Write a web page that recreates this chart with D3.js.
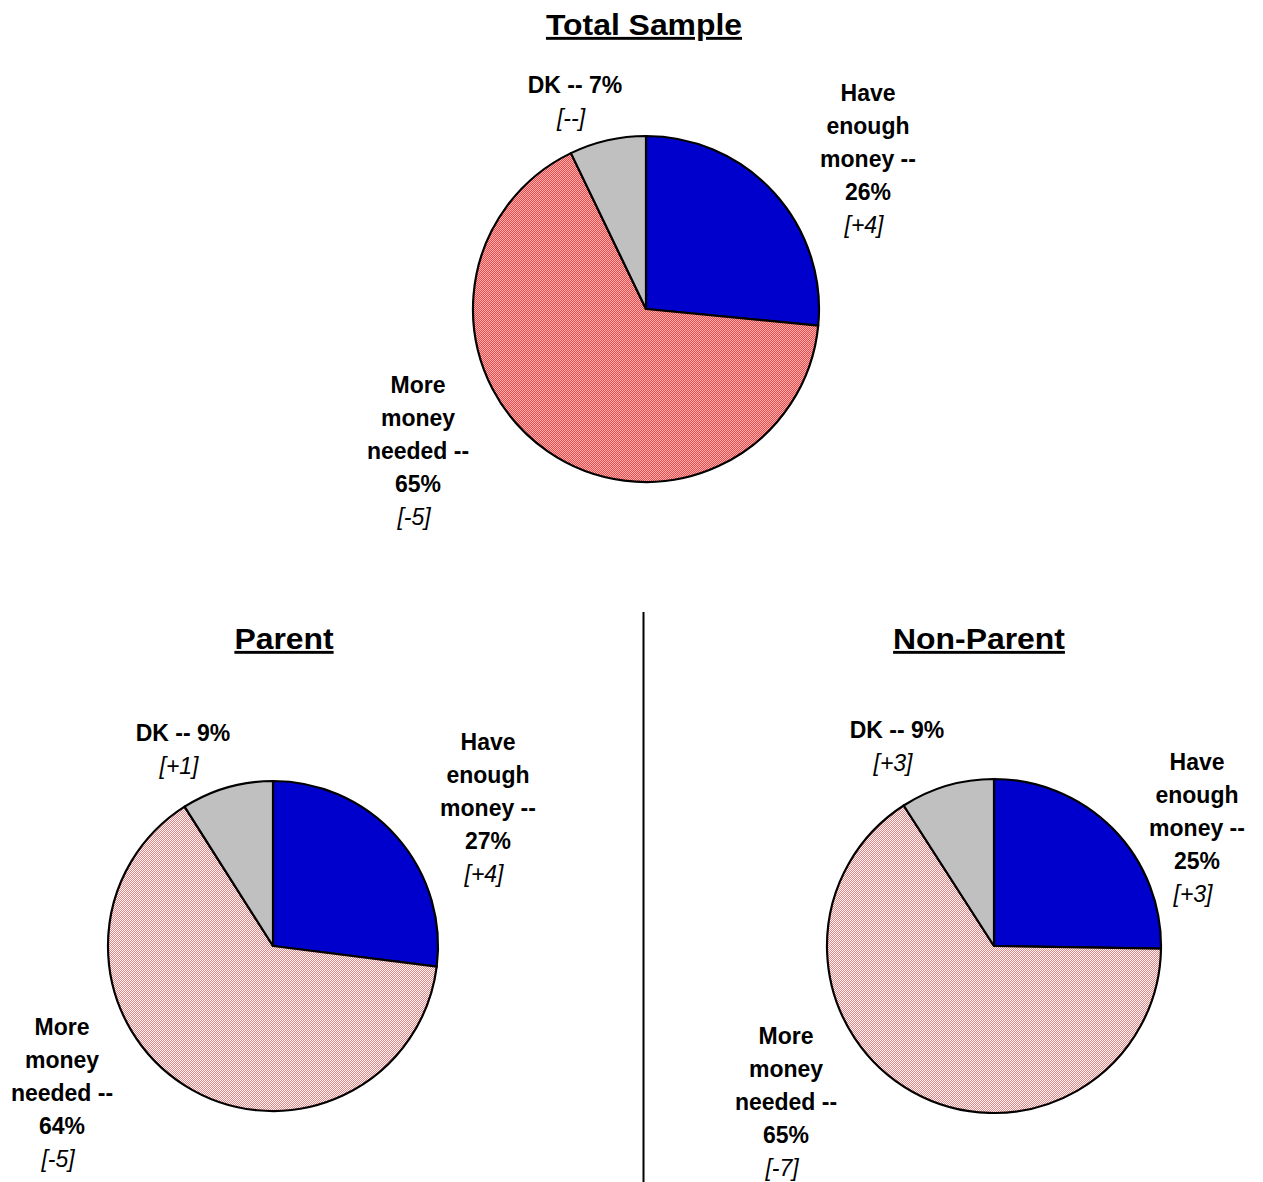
<!DOCTYPE html>
<html>
<head>
<meta charset="utf-8">
<script src="https://cdn.jsdelivr.net/npm/d3@7"></script>
<style>
  html, body { margin: 0; padding: 0; background: #fff; }
  svg { display: block; }
  text { font-family: "Liberation Sans", Arial, sans-serif; fill: #000; }
</style>
</head>
<body>
<svg id="chart" width="1263" height="1182"></svg>
<script>
// Survey answers, shares in percent, slices drawn clockwise from 12 o'clock
const panelTitles = ["Total Sample", "Parent", "Non-Parent"];
const categories = ["Have enough money", "More money needed", "DK"];
const totalValues = [26, 65, 7];
const parentValues = [27, 64, 9];
const nonParentValues = [25, 65, 9];
// Change versus the previous wave, shown in brackets
const totalChanges = ["+4", "-5", "--"];
const parentChanges = ["+4", "-5", "+1"];
const nonParentChanges = ["+3", "-7", "+3"];
// Wording of each slice label, split into lines; the value is appended
const labelLines = [["Have", "enough", "money --"], ["More", "money", "needed --"], []];
const labelPrefix = ["", "", "DK -- "];

const svg = d3.select("#chart");
const defs = svg.append("defs");

// 1px checkerboard fill, tiled on the page grid (offset one pixel)
function checker(id, bg, fg, ox, oy) {
  const p = defs.append("pattern").attr("id", id)
    .attr("patternUnits", "userSpaceOnUse")
    .attr("x", 1 - ox).attr("y", -oy)
    .attr("width", 2).attr("height", 2);
  p.append("rect").attr("width", 2).attr("height", 2).attr("fill", bg);
  p.append("rect").attr("x", 0).attr("y", 0).attr("width", 1).attr("height", 1).attr("fill", fg);
  p.append("rect").attr("x", 1).attr("y", 1).attr("width", 1).attr("height", 1).attr("fill", fg);
}

const panels = [
  { title: panelTitles[0], values: totalValues, changes: totalChanges,
    cx: 646, cy: 309, r: 173, titleX: 644, titleY: 35, dense: true,
    labels: [{ x: 868, y: 101 }, { x: 418, y: 393 }, { x: 575, y: 93 }] },
  { title: panelTitles[1], values: parentValues, changes: parentChanges,
    cx: 273, cy: 946, r: 165, titleX: 284, titleY: 649, dense: false,
    labels: [{ x: 488, y: 750 }, { x: 62, y: 1035 }, { x: 183, y: 741 }] },
  { title: panelTitles[2], values: nonParentValues, changes: nonParentChanges,
    cx: 994, cy: 946, r: 167, titleX: 979, titleY: 649, dense: false,
    labels: [{ x: 1197, y: 770 }, { x: 786, y: 1044 }, { x: 897, y: 738 }] }
];

const pie = d3.pie().sort(null).value(d => d);
const lineH = 33;

panels.forEach((p, pi) => {
  const patId = "more" + pi;
  if (p.dense) checker(patId, "#ffb4b4", "#f24848", p.cx, p.cy);
  else checker(patId, "#ffffff", "#ef8080", p.cx, p.cy);
  const fills = ["#0000cc", `url(#${patId})`, "#c0c0c0"];
  const arc = d3.arc().innerRadius(0).outerRadius(p.r);
  const g = svg.append("g").attr("transform", `translate(${p.cx},${p.cy})`);
  g.selectAll("path").data(pie(p.values)).join("path")
    .attr("d", arc)
    .attr("fill", (d, i) => fills[i])
    .attr("stroke", "#000").attr("stroke-width", 2.2).attr("stroke-linejoin", "round");

  // panel title, bold and underlined
  svg.append("text")
    .attr("transform", `translate(${p.titleX},${p.titleY}) scale(1.1,1)`)
    .attr("text-anchor", "middle")
    .attr("font-size", 29).attr("font-weight", "bold")
    .attr("text-decoration", "underline")
    .text(p.title);

  categories.forEach((c, i) => {
    const pos = p.labels[i];
    const lines = labelLines[i].slice();
    if (lines.length) lines.push(p.values[i] + "%");
    else lines.push(labelPrefix[i] + p.values[i] + "%");
    const t = svg.append("text")
      .attr("transform", `translate(${pos.x},${pos.y})`)
      .attr("text-anchor", "middle")
      .attr("font-size", 23);
    lines.forEach((ln, k) => {
      t.append("tspan").attr("x", 0).attr("y", k * lineH)
        .attr("font-weight", "bold").text(ln);
    });
    t.append("tspan").attr("x", -4).attr("y", lines.length * lineH)
      .attr("font-style", "italic").text("[" + p.changes[i] + "]");
  });
});

// divider between the two subgroup pies
svg.append("line")
  .attr("x1", 643.5).attr("x2", 643.5).attr("y1", 612).attr("y2", 1182)
  .attr("stroke", "#000").attr("stroke-width", 2);
</script>
</body>
</html>
